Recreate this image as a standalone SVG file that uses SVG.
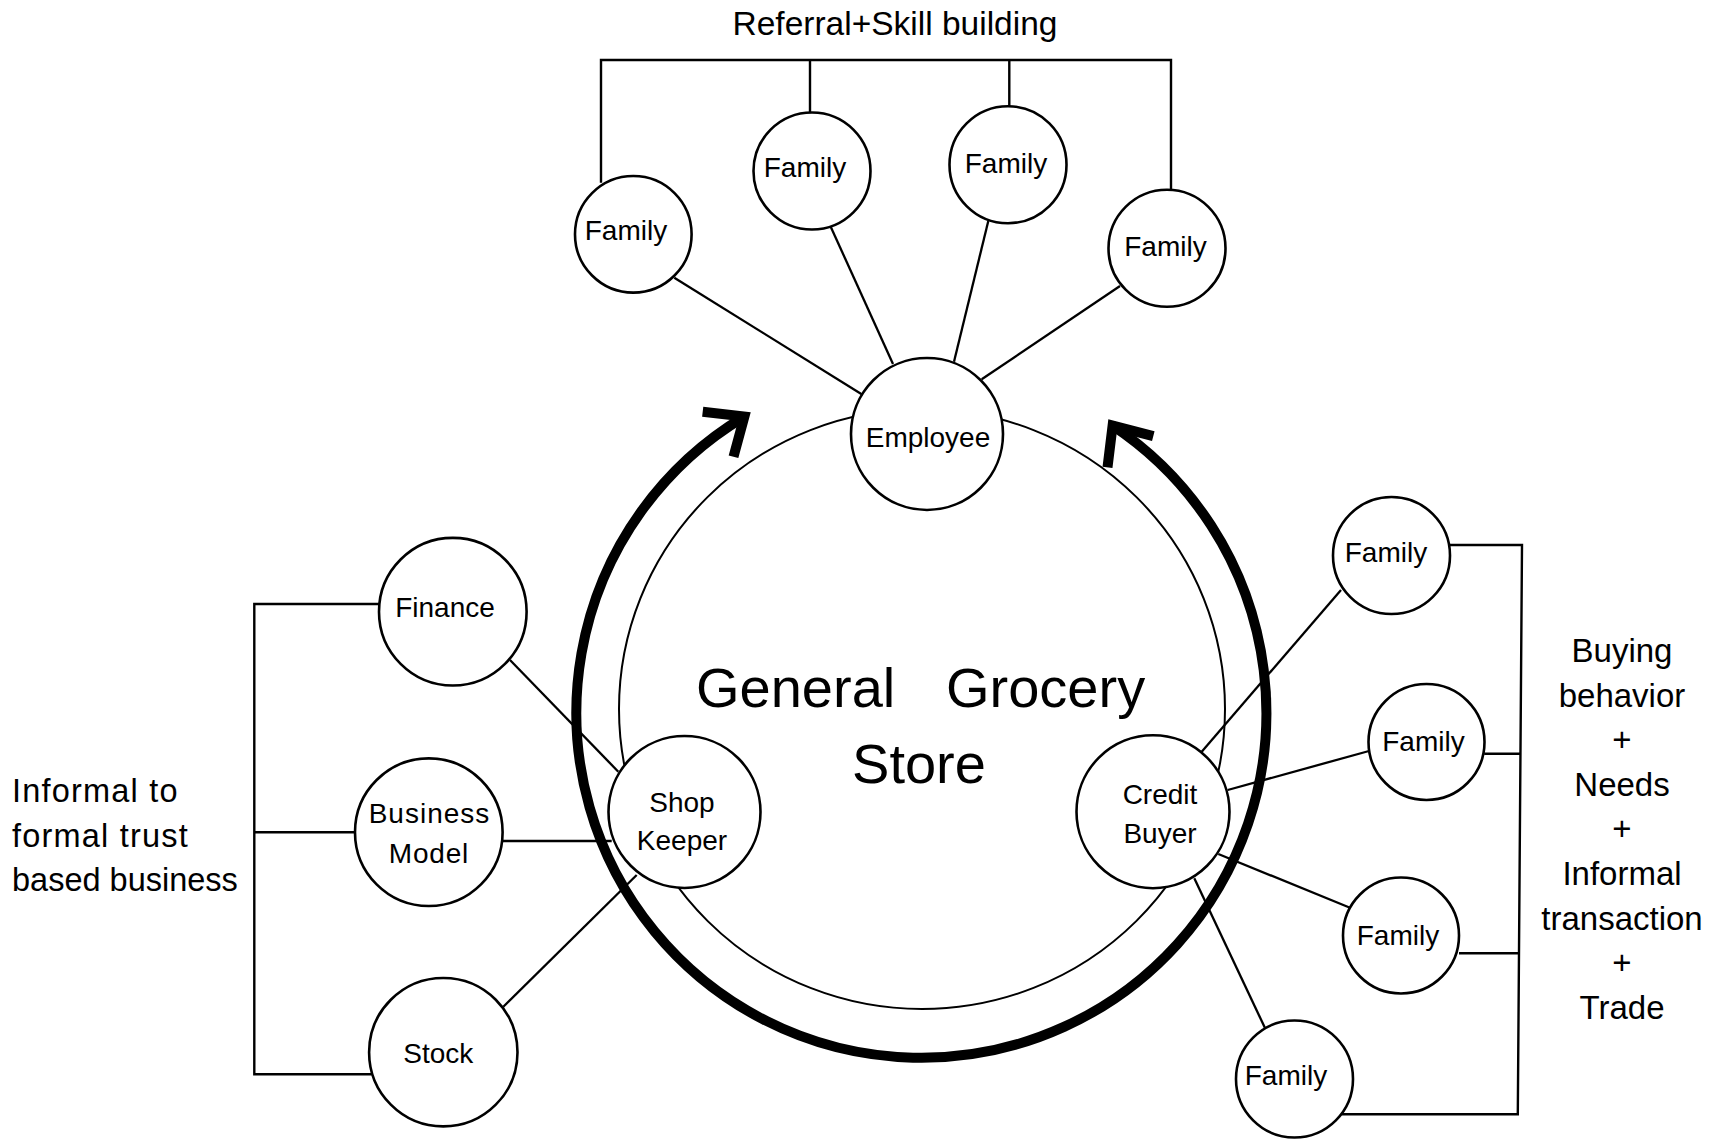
<svg xmlns="http://www.w3.org/2000/svg" width="1719" height="1139" viewBox="0 0 1719 1139">
<style>
text{font-family:"Liberation Sans",Arial,sans-serif;fill:#000}
.n{fill:#fff;stroke:#000;stroke-width:2.6}
.t{font-size:28px;text-anchor:middle}
.c{fill:none;stroke:#000;stroke-width:2.3}
.b{fill:none;stroke:#000;stroke-width:2.4}
.thick{fill:none;stroke:#000;stroke-width:10;stroke-linejoin:miter;stroke-miterlimit:10}
.lbl{font-size:32.5px}
.rl{font-size:33px;text-anchor:middle}
</style>
<rect width="1719" height="1139" fill="#fff"/>
<g id="store">
<ellipse cx="922" cy="709" rx="303" ry="300" fill="#fff" stroke="#000" stroke-width="2"/>
<text x="696" y="707" font-size="56">General</text>
<text x="946" y="707" font-size="56">Grocery</text>
<text x="919" y="783" font-size="56" text-anchor="middle">Store</text>
</g>
<g id="connectors">
<path class="c" d="M674.3 277.7 L861.7 394.3"/>
<path class="c" d="M830.7 226.7 L893 364"/>
<path class="c" d="M988.3 221 L954 361.7"/>
<path class="c" d="M1120 286 L981.7 379.3"/>
<path class="b" d="M601 182.7 V60 H1171 V190 M810 60 V112.7 M1009.3 60 V106"/>
<path class="c" d="M510 660 L618.3 771.7"/>
<path class="c" d="M502.7 841 L611.7 841"/>
<path class="c" d="M503.3 1006.7 L636.7 875"/>
<path class="b" d="M379 604 H254.3 V1074.3 H371.7 M254.3 832.3 H355"/>
<path class="c" d="M1201.7 751.7 L1341 590"/>
<path class="c" d="M1227.7 790 L1369 751"/>
<path class="c" d="M1218.3 854 L1350 907.7"/>
<path class="c" d="M1194.3 878.3 L1265 1028"/>
<path class="b" d="M1449.8 545 H1522 L1517.8 1114.2 H1341.4 M1484.2 753.8 H1521.5 M1459 953.3 H1519"/>
<path class="thick" d="M744.4 416.6 A345 345 0 1 0 1112.6 425.6"/>
<polyline class="thick" points="702.7,411.7 744.4,416.6 733.5,456.7"/>
<polyline class="thick" points="1153.3,436.2 1112.6,425.6 1107.5,467.3"/>
</g>
<g id="employee"><circle class="n" cx="927" cy="434" r="76"/><text class="t" x="928" y="447">Employee</text></g>
<g id="family-top-1"><circle class="n" cx="633.3" cy="234.3" r="58.3"/><text class="t" x="626" y="240">Family</text></g>
<g id="family-top-2"><circle class="n" cx="812" cy="171" r="58.5"/><text class="t" x="805" y="177.3">Family</text></g>
<g id="family-top-3"><circle class="n" cx="1008" cy="164.7" r="58.5"/><text class="t" x="1006" y="172.7">Family</text></g>
<g id="family-top-4"><circle class="n" cx="1167" cy="248.3" r="58.5"/><text class="t" x="1165.5" y="255.7">Family</text></g>
<g id="shop-keeper"><circle class="n" cx="684.5" cy="812" r="76"/><text class="t" x="682" y="811.7">Shop</text><text class="t" x="682" y="850">Keeper</text></g>
<g id="credit-buyer"><circle class="n" cx="1153" cy="811.7" r="76.5"/><text class="t" x="1160" y="804">Credit</text><text class="t" x="1160" y="842.7">Buyer</text></g>
<g id="finance"><circle class="n" cx="452.8" cy="611.7" r="73.8"/><text class="t" x="445" y="617.3">Finance</text></g>
<g id="business-model"><circle class="n" cx="428.8" cy="832.2" r="73.8"/><text class="t" x="429.5" y="823.3" letter-spacing="1">Business</text><text class="t" x="429" y="863.3" letter-spacing="0.8">Model</text></g>
<g id="stock"><circle class="n" cx="443.3" cy="1052.2" r="74.2"/><text class="t" x="438.3" y="1063.3">Stock</text></g>
<g id="family-right-1"><circle class="n" cx="1391.5" cy="555.5" r="58.5"/><text class="t" x="1386" y="562">Family</text></g>
<g id="family-right-2"><circle class="n" cx="1426.5" cy="742" r="58"/><text class="t" x="1423.5" y="751">Family</text></g>
<g id="family-right-3"><circle class="n" cx="1401" cy="935.5" r="58"/><text class="t" x="1398" y="945">Family</text></g>
<g id="family-right-4"><circle class="n" cx="1294.5" cy="1079" r="58.5"/><text class="t" x="1286" y="1085">Family</text></g>
<g id="labels">
<text x="895" y="35" font-size="33.5" text-anchor="middle">Referral+Skill building</text>
<text class="lbl" x="12" y="802" letter-spacing="1.2">Informal to</text>
<text class="lbl" x="12" y="846.5" letter-spacing="1.2">formal trust</text>
<text class="lbl" x="12" y="891">based business</text>
<text class="rl" x="1622" y="662">Buying</text>
<text class="rl" x="1622" y="706.6">behavior</text>
<text class="rl" x="1622" y="751.2">+</text>
<text class="rl" x="1622" y="795.8">Needs</text>
<text class="rl" x="1622" y="840.4">+</text>
<text class="rl" x="1622" y="885">Informal</text>
<text class="rl" x="1622" y="929.6">transaction</text>
<text class="rl" x="1622" y="974.2">+</text>
<text class="rl" x="1622" y="1018.8">Trade</text>
</g>
</svg>
